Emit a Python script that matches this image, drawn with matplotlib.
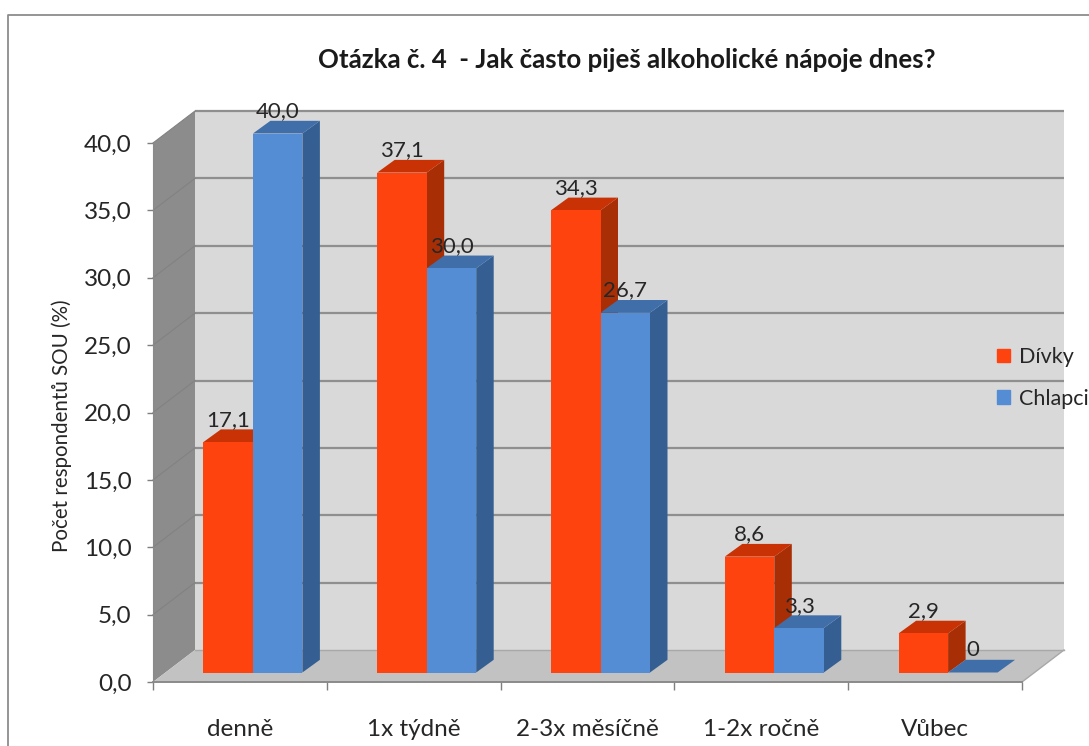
import matplotlib
matplotlib.use("Agg")
import matplotlib.pyplot as plt
from matplotlib.lines import Line2D
from matplotlib.patches import Patch, Polygon

plt.rcParams["font.family"] = ["Lato", "DejaVu Sans"]

title = "Otázka č. 4  - Jak často piješ alkoholické nápoje dnes?"
ylabel = "Počet respondentů SOU (%)"
categories = ["denně", "1x týdně", "2-3x měsíčně", "1-2x ročně", "Vůbec"]
divky = [17.1, 37.1, 34.3, 8.6, 2.9]
chlapci = [40.0, 30.0, 26.7, 3.3, 0.0]
divky_labels = ["17,1", "37,1", "34,3", "8,6", "2,9"]
chlapci_labels = ["40,0", "30,0", "26,7", "3,3", "0"]
yticks = [0, 5, 10, 15, 20, 25, 30, 35, 40]

W, H = 1089, 746
X0, X1, Y0, Y1 = 153, 1022, 682, 143  # plot box in pixels
PX = 5 / (X1 - X0)                     # category units per pixel
PY = 40 / (Y0 - Y1)                    # value units per pixel

WALL_DX, WALL_DY = 42 * PX, 32 * PY    # depth of the chart box
BASE_DX, BASE_DY = 13 * PX, 9.5 * PY   # where the bars stand on the floor
BAR_DX, BAR_DY = 17.5 * PX, 12.7 * PY  # depth of each bar
BAR_W = 49.5 * PX

WALL = "#d9d9d9"
FLOOR = "#c2c2c2"
SIDE = "#8c8c8c"
GRID = "#8f8f8f"
TEXT = "#262626"
RED = ("#ff430f", "#c93204", "#a82e06")
BLUE = ("#548dd4", "#3f6ea9", "#355f92")

fig = plt.figure(figsize=(W / 100, H / 100), dpi=100, facecolor="white")
ax = fig.add_axes([X0 / W, (H - Y0) / H, (X1 - X0) / W, (Y0 - Y1) / H])
ax.set_xlim(0, 5)
ax.set_ylim(0, 40)
for spine in ax.spines.values():
    spine.set_visible(False)
ax.patch.set_visible(False)


def face(points, color, z):
    ax.add_patch(Polygon(points, closed=True, facecolor=color, edgecolor="none",
                         zorder=z, clip_on=False))


# chart box: back wall, side wall, floor
face([(WALL_DX, WALL_DY), (5 + WALL_DX, WALL_DY),
      (5 + WALL_DX, 40 + WALL_DY), (WALL_DX, 40 + WALL_DY)], WALL, 1)
face([(0, 0), (WALL_DX, WALL_DY), (WALL_DX, 40 + WALL_DY), (0, 40)], SIDE, 1)
face([(0, 0), (5, 0), (5 + WALL_DX, WALL_DY), (WALL_DX, WALL_DY)], FLOOR, 1)

for v in yticks[1:]:
    ax.plot([WALL_DX, 5 + WALL_DX], [v + WALL_DY] * 2, color=GRID, lw=1.6,
            zorder=2, clip_on=False, solid_capstyle="butt")
    ax.plot([0, WALL_DX], [v, v + WALL_DY], color="#828282", lw=0.8,
            zorder=2, clip_on=False)
ax.plot([WALL_DX, 5 + WALL_DX], [WALL_DY] * 2, color="#a8a8a8", lw=1.0, zorder=2, clip_on=False)
ax.plot([5, 5 + WALL_DX], [0, WALL_DY], color="#a8a8a8", lw=1.0, zorder=2, clip_on=False)
ax.plot([0, 5], [0, 0], color="#8a8a8a", lw=1.4, zorder=2, clip_on=False)
ax.plot([0, 0], [0, 40], color="#8a8a8a", lw=0.8, zorder=2, clip_on=False)


def draw_series(values, labels, offset, colors, z):
    front, top, side = colors
    for i, (v, lab) in enumerate(zip(values, labels)):
        left = i + 0.5 + BASE_DX + offset
        right = left + BAR_W
        low = BASE_DY
        high = BASE_DY + v
        if v > 0:
            ax.bar(left, v, BAR_W, bottom=low, align="edge", color=front,
                   zorder=z + 2, clip_on=False)
            face([(right, low), (right + BAR_DX, low + BAR_DY),
                  (right + BAR_DX, high + BAR_DY), (right, high)], side, z)
        face([(left, high), (right, high),
              (right + BAR_DX, high + BAR_DY), (left + BAR_DX, high + BAR_DY)], top, z + 1)
        ax.annotate(lab, (left + BAR_W / 2, high), xytext=(0, 16),
                    textcoords="offset points", ha="center", va="center",
                    fontsize=16, color=TEXT, zorder=10, annotation_clip=False)


draw_series(divky, divky_labels, -BAR_W, RED, 3)
draw_series(chlapci, chlapci_labels, 0, BLUE, 6)

# axes furniture
ax.set_yticks(yticks)
ax.set_yticklabels([f"{v:.1f}".replace(".", ",") for v in yticks],
                   fontsize=17.5, color=TEXT)
ax.tick_params(axis="y", length=4.5, width=1, color="#7f7f7f", pad=11)
ax.set_xticks(range(6))
ax.set_xticklabels([])
ax.tick_params(axis="x", which="major", length=6, width=1, color="#7f7f7f")
ax.set_xticks([i + 0.5 for i in range(5)], minor=True)
ax.set_xticklabels(categories, minor=True, fontsize=17.5, color=TEXT)
ax.tick_params(axis="x", which="minor", length=0, pad=27)

fig.text(62 / W, 1 - 426 / H, ylabel, rotation=90, ha="center", va="center",
         fontsize=14.8, color=TEXT)
fig.text(627 / W, 1 - 60 / H, title, ha="center", va="center",
         fontsize=18.6, fontweight="bold", color="#1a1a1a")

ax.legend(handles=[Patch(color=RED[0], label="Dívky"), Patch(color=BLUE[0], label="Chlapci")],
          loc="upper left", bbox_to_anchor=(997 / W, 1 - 347 / H),
          bbox_transform=fig.transFigure, frameon=False, fontsize=15.5, handlelength=0.6,
          handleheight=0.6, handletextpad=0.4, labelspacing=1.0, labelcolor=TEXT,
          borderpad=0, borderaxespad=0)

# slide frame around the chart
fig.add_artist(Line2D([8 / W, 8 / W, 1], [0, 1 - 15 / H, 1 - 15 / H],
                      color="#8c8c8c", lw=1.3, transform=fig.transFigure))

fig.savefig("out.png", dpi=100)
